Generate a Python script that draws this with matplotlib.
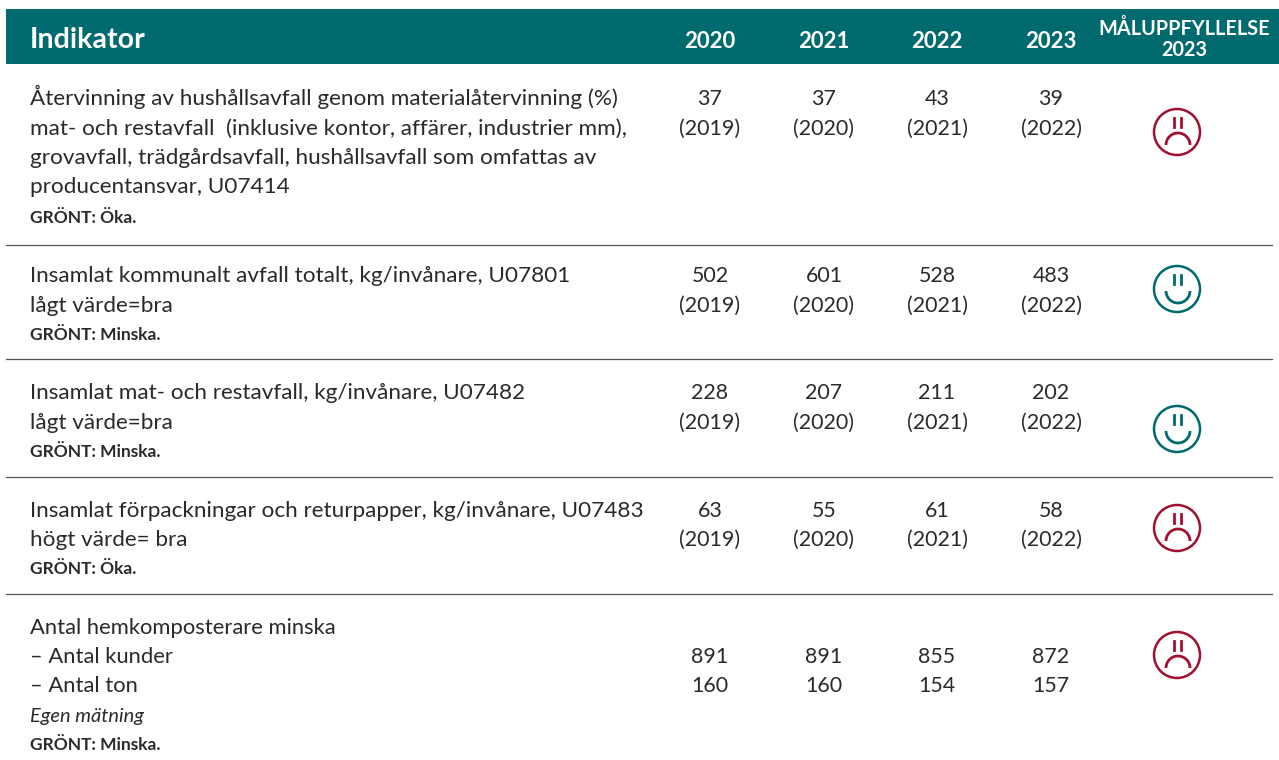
import matplotlib
matplotlib.use('Agg')
import matplotlib.pyplot as plt
from matplotlib.patches import Circle, Arc, Rectangle

plt.rcParams['font.family'] = ['Lato', 'DejaVu Sans']

years = ['2020', '2021', '2022', '2023']
col_title = 'Indikator'
goal_title = ['MÅLUPPFYLLELSE', '2023']

row1_text = ['Återvinning av hushållsavfall genom materialåtervinning (%)',
             'mat- och restavfall  (inklusive kontor, affärer, industrier mm),',
             'grovavfall, trädgårdsavfall, hushållsavfall som omfattas av',
             'producentansvar, U07414']
row2_text = ['Insamlat kommunalt avfall totalt, kg/invånare, U07801', 'lågt värde=bra']
row3_text = ['Insamlat mat- och restavfall, kg/invånare, U07482', 'lågt värde=bra']
row4_text = ['Insamlat förpackningar och returpapper, kg/invånare, U07483', 'högt värde= bra']
row5_text = ['Antal hemkomposterare minska', '– Antal kunder', '– Antal ton']
row5_italic = 'Egen mätning'
green_text = ['GRÖNT: Öka.', 'GRÖNT: Minska.', 'GRÖNT: Minska.', 'GRÖNT: Öka.', 'GRÖNT: Minska.']

row1_vals = [37, 37, 43, 39]
row2_vals = [502, 601, 528, 483]
row3_vals = [228, 207, 211, 202]
row4_vals = [63, 55, 61, 58]
ref_years = ['(2019)', '(2020)', '(2021)', '(2022)']
kunder_vals = [891, 891, 855, 872]
ton_vals = [160, 160, 154, 157]
happy = [False, True, True, False, False]

TEAL = '#006a6e'
RED = '#a0102f'
DARK = '#2b2a29'
FS = 16.2
NUM_FS = 15.4
LEFT = 30
col_x = [710, 824, 937, 1051]
face_x = 1177
face_y = [132, 289, 429, 528, 655]

fig = plt.figure(figsize=(12.79, 7.60), dpi=100)
ax = fig.add_axes([0, 0, 1, 1])
ax.set_xlim(0, 1279)
ax.set_ylim(760, 0)
ax.axis('off')

# header
ax.add_patch(Rectangle((6, 9), 1273, 55, color=TEAL, lw=0))
ax.text(LEFT, 48, col_title, color='white', fontsize=20.6, fontweight='bold')
for x, y in zip(col_x, years):
    ax.text(x, 48, y, color='white', fontsize=16, fontweight='bold', ha='center')
ax.text(1184, 35, goal_title[0], color='white', fontsize=14.3, fontweight='bold', ha='center')
ax.text(1184, 56, goal_title[1], color='white', fontsize=14.3, fontweight='bold', ha='center')

# rules
for y in [245, 359, 477, 594]:
    ax.plot([6, 1272], [y, y], color='#555555', lw=0.9)


def left_lines(lines, ys, fs=FS):
    for t, y in zip(lines, ys):
        ax.text(LEFT, y, t, color=DARK, fontsize=fs)


def bold_line(t, y):
    ax.text(LEFT, y, t, color=DARK, fontsize=12.5, fontweight='bold')


def values(vals, y1, y2=None, second=None):
    for i, x in enumerate(col_x):
        ax.text(x, y1, str(vals[i]), color=DARK, fontsize=NUM_FS, ha='center')
        if y2 is not None:
            ax.text(x, y2, str(second[i]), color=DARK, fontsize=NUM_FS, ha='center')


def face(y, good):
    c = TEAL if good else RED
    ax.add_patch(Circle((face_x, y), 23, fill=False, ec=c, lw=1.8))
    ax.plot([face_x - 3.5] * 2, [y - 14, y - 5], color=c, lw=2)
    ax.plot([face_x + 4] * 2, [y - 14, y - 5], color=c, lw=2)
    if good:
        # y axis is inverted so angles run clockwise on screen
        ax.add_patch(Arc((face_x + 1, y + 2), 24, 24, theta1=0, theta2=180, ec=c, lw=2))
    else:
        ax.add_patch(Arc((face_x + 1, y + 13), 24, 24, theta1=180, theta2=360, ec=c, lw=2))


left_lines(row1_text, [105, 135, 164, 193])
bold_line(green_text[0], 223)
values(row1_vals, 105, 135, ref_years)

left_lines(row2_text, [282, 312])
bold_line(green_text[1], 340)
values(row2_vals, 282, 312, ref_years)

left_lines(row3_text, [399, 429])
bold_line(green_text[2], 457)
values(row3_vals, 399, 429, ref_years)

left_lines(row4_text, [517, 546])
bold_line(green_text[3], 574)
values(row4_vals, 517, 546, ref_years)

left_lines(row5_text, [634, 663, 692], 15.8)
ax.text(LEFT, 722, row5_italic, color=DARK, fontsize=14.4, fontstyle='italic')
bold_line(green_text[4], 750)
values(kunder_vals, 663, 692, ton_vals)

for y, h in zip(face_y, happy):
    face(y, h)

fig.savefig('out.png', dpi=100)
